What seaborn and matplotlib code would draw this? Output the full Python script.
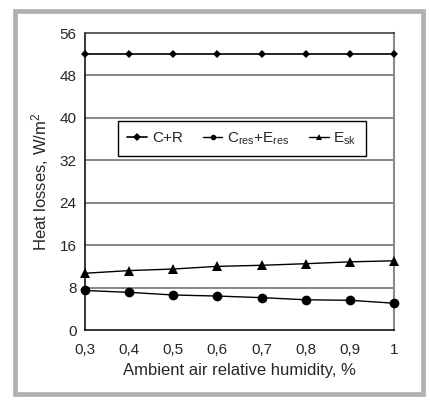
import matplotlib
matplotlib.use("Agg")
import matplotlib.pyplot as plt
import seaborn as sns
import pandas as pd
from matplotlib.patches import Rectangle

humidity = [0.3, 0.4, 0.5, 0.6, 0.7, 0.8, 0.9, 1.0]
c_r = [52.0, 52.0, 52.0, 52.0, 52.0, 52.0, 52.0, 52.0]
cres_eres = [7.45, 7.1, 6.6, 6.4, 6.1, 5.7, 5.6, 5.05]
e_sk = [10.7, 11.2, 11.5, 12.0, 12.2, 12.5, 12.85, 13.05]
series_names = ["C+R", r"C$_{\mathrm{res}}$+E$_{\mathrm{res}}$", r"E$_{\mathrm{sk}}$"]
x_ticklabels = ["0,3", "0,4", "0,5", "0,6", "0,7", "0,8", "0,9", "1"]
y_ticks = [0, 8, 16, 24, 32, 40, 48, 56]

sns.set_theme(style="white")
plt.rcParams["font.family"] = ["Liberation Sans", "DejaVu Sans"]
plt.rcParams["mathtext.fontset"] = "custom"
plt.rcParams["mathtext.rm"] = "Liberation Sans"
plt.rcParams["mathtext.it"] = "Liberation Sans"

rows = []
for name, vals in zip(series_names, [c_r, cres_eres, e_sk]):
    for x, v in zip(humidity, vals):
        rows.append({"h": x, "val": v, "series": name})
df = pd.DataFrame(rows)

fig = plt.figure(figsize=(4.3, 4.05), dpi=100)
ax = fig.add_axes([85/430, 75/405, 309/430, 297/405])

# outer gray frame
fig.patches.append(Rectangle((15/430, 11/405), 408/430, 383/405, transform=fig.transFigure,
                             fill=False, edgecolor="#b0b0b0", linewidth=3.4, zorder=0))

for yv in y_ticks[1:-1]:
    ax.axhline(yv, color="#7f7f7f", linewidth=1.3, zorder=0)

markers = {series_names[0]: "D", series_names[1]: "o", series_names[2]: "^"}
sizes = {series_names[0]: 4.5, series_names[1]: 7, series_names[2]: 7}
for name in series_names:
    sub = df[df["series"] == name]
    sns.lineplot(data=sub, x="h", y="val", ax=ax, color="black", linewidth=1.2 if name == series_names[0] else 1.0,
                 marker=markers[name], markersize=sizes[name], markeredgewidth=0,
                 label=name, clip_on=False, zorder=3)

ax.set_xlim(0.3, 1.0)
ax.set_ylim(0, 56)
ax.set_xticks(humidity)
ax.set_xticklabels(x_ticklabels)
ax.set_yticks(y_ticks)
ax.tick_params(axis="both", labelsize=11, length=4, width=1, direction="out", color="black", pad=2)
ax.tick_params(axis="x", pad=5)
ax.set_xlabel("Ambient air relative humidity, %", fontsize=12, labelpad=5)
ax.set_ylabel("Heat losses, W/m$^2$", fontsize=12, labelpad=6)

for side in ["left", "bottom"]:
    ax.spines[side].set_color("black")
    ax.spines[side].set_linewidth(1.1)
ax.spines["top"].set_color("#404040")
ax.spines["top"].set_linewidth(1.2)
ax.spines["right"].set_color("#8a8a8a")
ax.spines["right"].set_linewidth(1.5)

leg = ax.legend(loc="center", bbox_to_anchor=(0.508, 0.645), ncol=3, fontsize=11,
                frameon=True, fancybox=False, framealpha=1, edgecolor="black",
                handlelength=1.3, handletextpad=0.3, columnspacing=1.3, borderpad=0.6)
leg.get_frame().set_linewidth(1.0)
for h in leg.legend_handles:
    h.set_markersize(4)

fig.savefig("out.png", dpi=100, facecolor="white")
